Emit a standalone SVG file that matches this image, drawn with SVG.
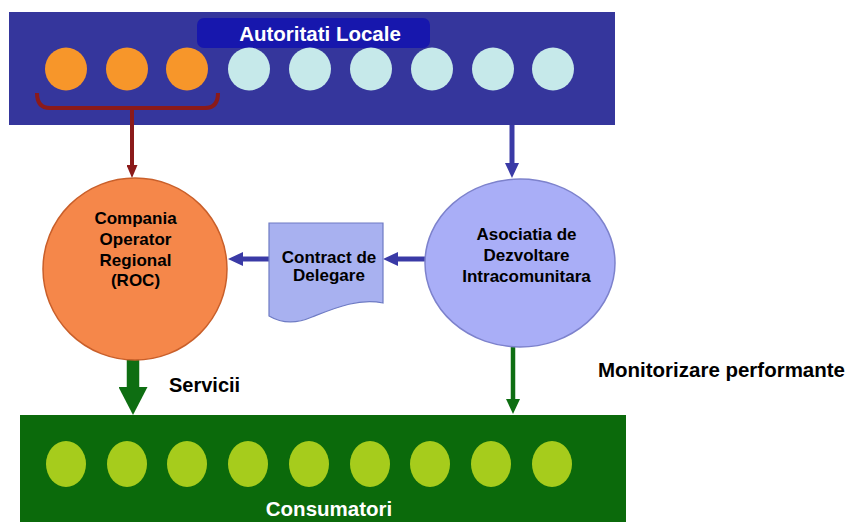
<svg xmlns="http://www.w3.org/2000/svg" width="855" height="522" viewBox="0 0 855 522">
<style>
.t{font-family:"Liberation Sans",Arial,sans-serif;font-weight:bold;text-anchor:middle}
.w{fill:#fff;font-size:20.5px}
.k{fill:#000;font-size:17px}
.lab{font-family:"Liberation Sans",Arial,sans-serif;font-weight:bold;font-size:20px;fill:#000}
.org{fill:#f7962a}
.lt{fill:#c6e9ea}
.gr{fill:#a6cc1c}
.blue{stroke:#3a3aa6;stroke-width:5;fill:none}
</style>
<defs>
<marker id="ab" markerUnits="userSpaceOnUse" viewBox="0 0 15 14" refX="0" refY="7" markerWidth="15" markerHeight="14" orient="auto"><path d="M0,0 L15,7 L0,14 Z" fill="#3a3aa6"/></marker>
<marker id="ar" markerUnits="userSpaceOnUse" viewBox="0 0 13 11" refX="0" refY="5.5" markerWidth="13" markerHeight="11" orient="auto"><path d="M0,0 L13,5.5 L0,11 Z" fill="#8b1a1a"/></marker>
<marker id="ag" markerUnits="userSpaceOnUse" viewBox="0 0 28 29" refX="0" refY="14.5" markerWidth="28" markerHeight="29" orient="auto"><path d="M0,0 L28,14.5 L0,29 Z" fill="#0e6e12"/></marker>
<marker id="ag2" markerUnits="userSpaceOnUse" viewBox="0 0 15 14" refX="0" refY="7" markerWidth="15" markerHeight="14" orient="auto"><path d="M0,0 L15,7 L0,14 Z" fill="#0e6e12"/></marker>
</defs>
<rect width="855" height="522" fill="#fff"/>
<g id="autoritati">
<rect x="9" y="12" width="606" height="113" fill="#35369c"/>
<rect x="197" y="18" width="233" height="30" rx="7" fill="#1717ad"/>
<text class="t w" x="320" y="41">Autoritati Locale</text>
<g class="org">
<ellipse cx="66" cy="69" rx="21" ry="21.5"/><ellipse cx="127" cy="69" rx="21" ry="21.5"/><ellipse cx="187" cy="69" rx="21" ry="21.5"/>
</g>
<g class="lt">
<ellipse cx="249" cy="69" rx="21" ry="21.5"/><ellipse cx="310" cy="69" rx="21" ry="21.5"/><ellipse cx="371" cy="69" rx="21" ry="21.5"/><ellipse cx="432" cy="69" rx="21" ry="21.5"/><ellipse cx="493" cy="69" rx="21" ry="21.5"/><ellipse cx="553" cy="69" rx="21" ry="21.5"/>
</g>
<path d="M37,93 Q37,108 50,108 L205,108 Q218,108 218,93" fill="none" stroke="#8b1a1a" stroke-width="4"/>
</g>
<g id="connectors">
<path d="M132,108 L132,165" stroke="#8b1a1a" stroke-width="4" fill="none" marker-end="url(#ar)"/>
<path d="M512,125 L512,163" class="blue" marker-end="url(#ab)"/>
<path d="M427,259 L398,259" class="blue" marker-end="url(#ab)"/>
<path d="M269,259 L243,259" class="blue" marker-end="url(#ab)"/>
<path d="M133,359 L133,387" stroke="#0e6e12" stroke-width="12.5" fill="none" marker-end="url(#ag)"/>
<path d="M513,345 L513,399" stroke="#0e6e12" stroke-width="4.5" fill="none" marker-end="url(#ag2)"/>
</g>
<g id="roc">
<ellipse cx="135" cy="269" rx="92" ry="91" fill="#f5874a" stroke="#c95f2a" stroke-width="1.5"/>
<text class="t k" x="135.5" y="224">Compania</text>
<text class="t k" x="135.5" y="245">Operator</text>
<text class="t k" x="135.5" y="266">Regional</text>
<text class="t k" x="135.5" y="286">(ROC)</text>
</g>
<g id="contract">
<path d="M269,223 L383,223 L383,303 C358,298 335,308 312,317 C296,324 281,323 269,316 Z" fill="#a8b1f0" stroke="#6e7bc4" stroke-width="1.2"/>
<text class="t k" x="329" y="263">Contract de</text>
<text class="t k" x="329" y="281">Delegare</text>
</g>
<g id="adi">
<ellipse cx="520" cy="263" rx="95" ry="84" fill="#a9aef7" stroke="#7d82cc" stroke-width="1.5"/>
<text class="t k" x="526.5" y="240">Asociatia de</text>
<text class="t k" x="526.5" y="261">Dezvoltare</text>
<text class="t k" x="526.5" y="282">Intracomunitara</text>
</g>
<text class="lab" x="169" y="392">Servicii</text>
<text class="lab" x="598" y="377" textLength="247" lengthAdjust="spacingAndGlyphs">Monitorizare performante</text>
<g id="consumatori">
<rect x="20" y="415" width="606" height="107" fill="#0b6a0b"/>
<g class="gr">
<ellipse cx="66" cy="464" rx="20" ry="23"/><ellipse cx="127" cy="464" rx="20" ry="23"/><ellipse cx="187" cy="464" rx="20" ry="23"/><ellipse cx="248" cy="464" rx="20" ry="23"/><ellipse cx="309" cy="464" rx="20" ry="23"/><ellipse cx="370" cy="464" rx="20" ry="23"/><ellipse cx="430" cy="464" rx="20" ry="23"/><ellipse cx="491" cy="464" rx="20" ry="23"/><ellipse cx="552" cy="464" rx="20" ry="23"/>
</g>
<text class="t w" x="329" y="516">Consumatori</text>
</g>
</svg>
